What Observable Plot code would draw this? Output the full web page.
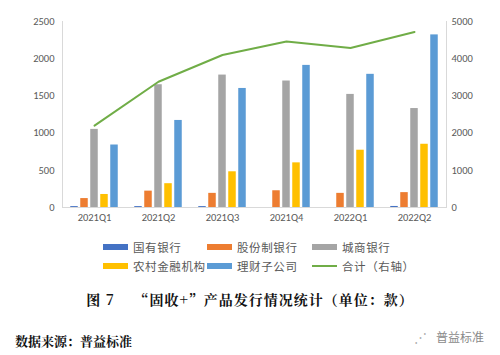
<!DOCTYPE html>
<html><head><meta charset="utf-8">
<script src="https://cdn.jsdelivr.net/npm/d3@7"></script>
<script src="https://cdn.jsdelivr.net/npm/@observablehq/plot@0.6"></script>
<style>
body{margin:0;background:#fff;font-family:"Noto Sans CJK SC","Noto Sans",sans-serif;}
#wrap{position:relative;width:500px;height:355px;overflow:hidden;}
.lg{position:absolute;font-size:11.5px;color:#595959;letter-spacing:0.6px;white-space:nowrap;line-height:14px;}
.sw{position:absolute;}
</style></head><body>
<div id="wrap"></div>
<script>
const quarters = ["2021Q1","2021Q2","2021Q3","2021Q4","2022Q1","2022Q2"];
const seriesNames = ["国有银行","股份制银行","城商银行","农村金融机构","理财子公司"];
const seriesColors = ["#4472C4","#ED7D31","#A5A5A5","#FFC000","#5B9BD5"];
const stateBanks   = [12, 12, 12, 0, 0, 14];
const jointBanks   = [120, 220, 190, 225, 190, 200];
const cityBanks    = [1050, 1650, 1780, 1700, 1520, 1330];
const ruralBanks   = [175, 320, 480, 600, 770, 850];
const wmSubs       = [840, 1170, 1600, 1910, 1790, 2320];
const totalRight   = [2200, 3380, 4100, 4460, 4290, 4720];
const lineName = "合计（右轴）";
const lineColor = "#70AD47";
const leftTicks = [0, 500, 1000, 1500, 2000, 2500];

const seriesValues = [stateBanks, jointBanks, cityBanks, ruralBanks, wmSubs];
const barData = seriesValues.map(vals => quarters.map((q, j) => ({quarter: q, value: vals[j]})));
const lineData = quarters.map((q, j) => ({quarter: q, total: totalRight[j]}));

const W = 500, H = 230, mL = 62, mR = 54, mT = 21, mB = 23;
const B = (W - mL - mR) / quarters.length;
const step = 10, bw = 7.5;

const marks = [];
seriesValues.forEach((v, i) => {
  const il = B / 2 + (i - 2) * step - bw / 2;
  marks.push(Plot.barY(barData[i], {x: "quarter", y: "value", fill: seriesColors[i], insetLeft: il, insetRight: B - il - bw}));
});
marks.push(Plot.ruleY([0], {stroke: "#D9D9D9"}));
marks.push(Plot.axisY({anchor: "left", ticks: leftTicks, tickSize: 0, tickPadding: 8, tickFormat: d => String(d), fontSize: 10.5, color: "#595959"}));
marks.push(Plot.axisY({anchor: "right", ticks: leftTicks, tickSize: 0, tickPadding: 5, tickFormat: d => String(d * 2), fontSize: 10.5, color: "#595959"}));
marks.push(Plot.axisX({tickSize: 0, tickPadding: 6, fontSize: 10.5, color: "#595959"}));
marks.push(Plot.frame({anchor: "left", stroke: "#D9D9D9"}));
marks.push(Plot.frame({anchor: "right", stroke: "#D9D9D9"}));
marks.push(Plot.line(lineData, {x: "quarter", y: d => d.total / 2, stroke: lineColor, strokeWidth: 2}));

const chart = Plot.plot({
  width: W, height: H, marginLeft: mL, marginRight: mR, marginTop: mT, marginBottom: mB,
  style: {fontFamily: "Calibri, Carlito, 'Liberation Sans', sans-serif", fontSize: "10.5px", color: "#595959", background: "#fff"},
  x: {type: "band", domain: quarters, padding: 0, label: null},
  y: {domain: [0, 2500], label: null},
  marks
});
const wrap = document.getElementById("wrap");
chart.style.position = "absolute"; chart.style.left = "0px"; chart.style.top = "0px";
wrap.appendChild(chart);

// legend
const legendItems = seriesNames.map((n, i) => ({name: n, color: seriesColors[i], type: "bar"}))
  .concat([{name: lineName, color: lineColor, type: "line"}]);
const colX = [103, 207, 312];
const rowY = [247, 266];
legendItems.forEach((it, k) => {
  const cx = colX[k % 3], cy = rowY[Math.floor(k / 3)];
  const sw = document.createElement("div");
  sw.className = "sw";
  sw.style.left = cx + "px"; sw.style.width = "25px";
  if (it.type === "bar") { sw.style.top = (cy - 3) + "px"; sw.style.height = "6px"; }
  else { sw.style.top = (cy - 1) + "px"; sw.style.height = "2px"; }
  sw.style.background = it.color;
  wrap.appendChild(sw);
  const t = document.createElement("div");
  t.className = "lg"; t.textContent = it.name;
  t.style.left = (cx + 30) + "px"; t.style.top = (cy - 7.5) + "px";
  wrap.appendChild(t);
});

function addText(txt, css) {
  const d = document.createElement("div");
  d.textContent = txt;
  d.style.position = "absolute"; d.style.whiteSpace = "pre";
  Object.assign(d.style, css);
  wrap.appendChild(d);
}
addText("图 7　 “固收+”产品发行情况统计（单位：款）", {left: "0px", width: "500px", textAlign: "center", top: "289px", fontSize: "14px", letterSpacing: "1px", fontWeight: "bold", color: "#111", fontFamily: "'Noto Serif CJK SC','Noto Sans CJK SC',serif"});
addText("数据来源：普益标准", {left: "15px", top: "331px", fontSize: "13px", fontWeight: "bold", color: "#111", fontFamily: "'Noto Serif CJK SC','Noto Sans CJK SC',serif"});
addText("普益标准", {left: "436px", top: "328px", fontSize: "12px", color: "#8a8a8a"});
addText("⋰", {left: "414px", top: "327px", fontSize: "13px", color: "#b0b0b0"});
</script>
</body></html>
